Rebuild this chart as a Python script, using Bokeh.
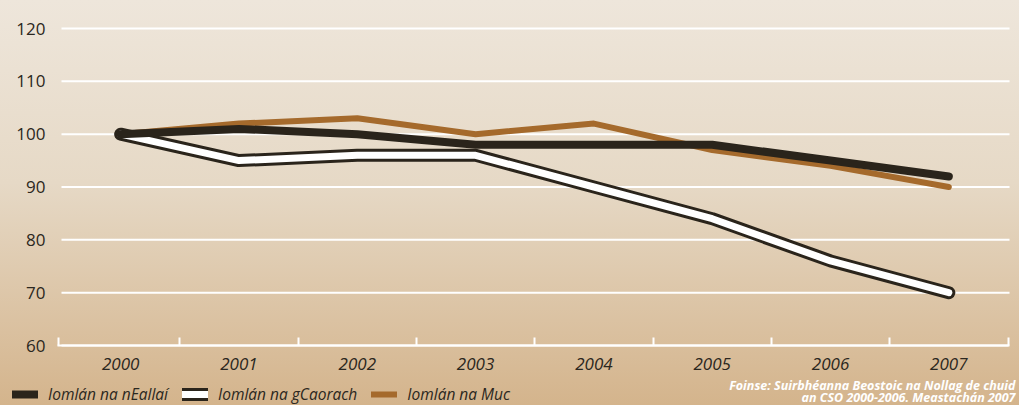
from bokeh.plotting import figure
from bokeh.models import Range1d, FixedTicker, Legend, LegendItem, Label
from bokeh.embed import file_html
from bokeh.resources import INLINE

years = ["2000", "2001", "2002", "2003", "2004", "2005", "2006", "2007"]
cattle = [100, 101, 100, 98, 98, 98, 95, 92]
sheep = [100, 95, 96, 96, 90, 84, 76, 70]
pigs = [100, 102, 103, 100, 102, 97, 94, 90]
y_ticks = [60, 70, 80, 90, 100, 110, 120]
series_names = ["Iomlán na nEallaí", "Iomlán na gCaorach", "Iomlán na Muc"]
source_lines = ["Foinse: Suirbhéanna Beostoic na Nollag de chuid",
                "an CSO 2000-2006. Meastachán 2007"]

TEXT = "#2b2720"
DARK = "#2a241b"
BROWN = "#a56a2c"
FONT = "Open Sans"

W, H = 1019, 405
n = len(years)
xs = list(range(n))

# pixel geometry of the plotting area (left/right edges of the category bands, y of 60 and 120)
PX_LEFT, PX_RIGHT = 61.0, 1007.5
PX_Y60, PX_Y120 = 345.0, 28.0
ux = (PX_RIGHT - PX_LEFT) / n            # px per x unit
uy = (PX_Y60 - PX_Y120) / (y_ticks[-1] - y_ticks[0])  # px per y unit
x0 = -0.5 - PX_LEFT / ux
x1 = n - 0.5 + (W - PX_RIGHT) / ux
y0 = y_ticks[0] - (H - PX_Y60) / uy
y1 = y_ticks[-1] + PX_Y120 / uy

p = figure(width=W, height=H, output_backend="svg", toolbar_location=None,
           x_range=Range1d(x0, x1), y_range=Range1d(y0, y1),
           min_border_left=0, min_border_right=0, min_border_top=0,
           min_border_bottom=0)
p.styles = {"background": "linear-gradient(to bottom, #eee6db 0%, #e6d9c6 45%, #d4b48c 100%)"}
p.background_fill_alpha = 0
p.border_fill_alpha = 0
p.outline_line_color = None
p.xgrid.visible = False
p.ygrid.visible = False

# horizontal white grid lines over the category span
p.segment(x0=[-0.5] * len(y_ticks), x1=[n - 0.5 + 1.5 / ux] * len(y_ticks),
          y0=y_ticks, y1=y_ticks, line_color="white", line_width=2)

# y axis
p.yaxis.fixed_location = -0.5
p.yaxis.ticker = FixedTicker(ticks=y_ticks)
p.yaxis.axis_line_color = None
p.yaxis.major_tick_line_color = None
p.yaxis.minor_tick_line_color = None
p.yaxis.major_tick_out = 0
p.yaxis.major_tick_in = 0
p.yaxis.minor_tick_out = 0
p.yaxis.major_label_standoff = 16
p.yaxis.major_label_text_font = FONT
p.yaxis.major_label_text_font_size = "17px"
p.yaxis.major_label_text_color = TEXT

# x axis
p.xaxis.fixed_location = y_ticks[0]
p.xaxis.bounds = (-0.5 - 4 / ux, n - 0.5)
p.xaxis.ticker = FixedTicker(ticks=xs, minor_ticks=[-0.5 - 3 / ux] + [i + 0.5 for i in range(n)])
p.xaxis.major_label_overrides = {i: y for i, y in zip(xs, years)}
p.xaxis.axis_line_color = "white"
p.xaxis.axis_line_width = 2
p.xaxis.major_tick_line_color = None
p.xaxis.minor_tick_line_color = "white"
p.xaxis.minor_tick_line_width = 2
p.xaxis.minor_tick_in = 8
p.xaxis.minor_tick_out = 0
p.xaxis.major_tick_in = 0
p.xaxis.major_tick_out = 6
p.xaxis.major_label_standoff = 6
p.xaxis.major_label_text_font = FONT
p.xaxis.major_label_text_font_style = "italic"
p.xaxis.major_label_text_font_size = "17px"
p.xaxis.major_label_text_color = TEXT

# lines
r_sheep_out = p.line(xs, sheep, line_color=DARK, line_width=13, line_cap="round", line_join="round")
r_sheep_in = p.line(xs, sheep, line_color="white", line_width=7, line_cap="round", line_join="round")
r_pigs = p.line(xs, pigs, line_color=BROWN, line_width=6, line_cap="round", line_join="round")
r_cattle = p.line(xs, cattle, line_color=DARK, line_width=8, line_cap="round", line_join="round")

legend = Legend(items=[
    LegendItem(label=series_names[0], renderers=[r_cattle]),
    LegendItem(label=series_names[1], renderers=[r_sheep_out, r_sheep_in]),
    LegendItem(label=series_names[2], renderers=[r_pigs]),
], location=(12, 0), orientation="horizontal")
legend.padding = 0
legend.margin = 0
legend.spacing = 14
legend.glyph_width = 26
legend.glyph_height = 20
legend.label_height = 20
legend.label_standoff = 10
legend.label_text_font = FONT
legend.label_text_font_style = "italic"
legend.label_text_font_size = "15.5px"
legend.label_text_color = TEXT
legend.background_fill_alpha = 0
legend.border_line_color = None
p.add_layout(legend)

src_px_baseline = [384.5, 397.0]
for txt, by in zip(source_lines, src_px_baseline):
    p.add_layout(Label(x=n - 0.5 + (W - 4 - PX_RIGHT) / ux,
                       y=y_ticks[0] - (by - PX_Y60) / uy,
                       text=txt, text_align="right",
                       text_baseline="alphabetic", text_font=FONT,
                       text_font_style="bold italic", text_font_size="12.5px",
                       text_color="white"))

open("out.html", "w").write(file_html(p, INLINE))
